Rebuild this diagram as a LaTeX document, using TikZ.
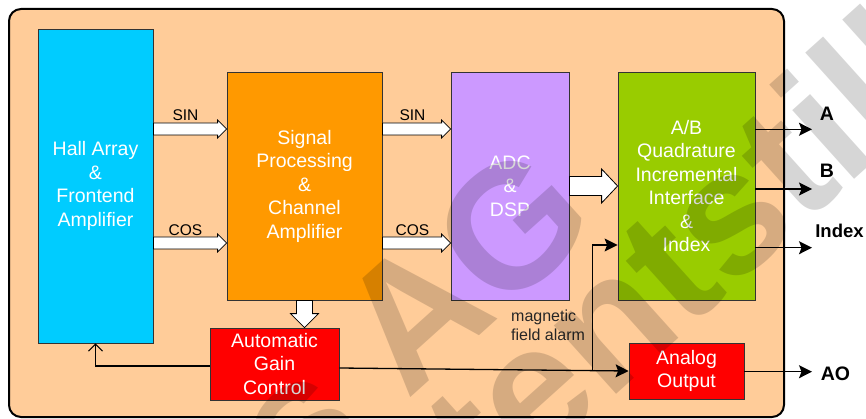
\documentclass[tikz,border=0pt]{standalone}
\usepackage{fontspec}
\setmainfont{Liberation Sans}
\usetikzlibrary{arrows.meta,calc}
\definecolor{peach}{HTML}{FFCC99}
\definecolor{hallc}{HTML}{00CCFF}
\definecolor{spc}{HTML}{FF9900}
\definecolor{adcc}{HTML}{CC99FF}
\definecolor{abc}{HTML}{99CC00}
\definecolor{redc}{HTML}{FF0000}
\newcommand\harr[5]{%
  \draw[hollow] let \p1=(#1), \p2=(#2) in
    (\x1,\y1+#3) -- (\x2-#5,\y1+#3) -- (\x2-#5,\y1+#4) -- (\x2,\y1)
    -- (\x2-#5,\y1-#4) -- (\x2-#5,\y1-#3) -- (\x1,\y1-#3) -- cycle;}
\newcommand\varr[5]{%
  \draw[hollow] let \p1=(#1), \p2=(#2) in
    (\x1+#3,\y1) -- (\x1+#3,\y2+#5) -- (\x1+#4,\y2+#5) -- (\x1,\y2)
    -- (\x1-#4,\y2+#5) -- (\x1-#3,\y2+#5) -- (\x1-#3,\y1) -- cycle;}
\begin{document}
\begin{tikzpicture}[x=1pt,y=-1pt,
  blk/.style={draw=black!80, line width=0.8pt, align=center, text=white,
    font=\fontsize{19.5}{23.5}\selectfont, inner sep=0pt},
  hollow/.style={draw=black, fill=white, line width=0.8pt, line join=miter},
  conn/.style={draw=black, line width=1.3pt},
  outtip/.style={-{Stealth[length=13pt,width=13pt,inset=2.5pt]}},
  sig/.style={font=\fontsize{15.5}{18}\selectfont, anchor=base, inner sep=0pt},
  outlbl/.style={font=\fontsize{19.5}{23}\selectfont\bfseries, anchor=base, inner sep=0pt},
  wm/.style={font=\fontsize{175}{175}\selectfont\bfseries, text=black, opacity=0.16, rotate=42, inner sep=0pt}
]
\useasboundingbox (0,0) rectangle (866,419);
\node[draw=black, line width=2pt, fill=peach, rounded corners=12pt,
  minimum width=775pt, minimum height=408pt, inner sep=0pt] (chip) at (396.5,213) {};

\node[blk, fill=hallc, minimum width=115pt, minimum height=314pt] (hall) at (95.5,186)
  {Hall Array\\\&\\Frontend\\Amplifier};
\node[blk, fill=spc, minimum width=155pt, minimum height=228pt] (sp) at (304.5,186)
  {Signal\\Processing\\\&\\Channel\\Amplifier};
\node[blk, fill=adcc, minimum width=118pt, minimum height=228pt] (adc) at (510,186)
  {ADC\\\&\\DSP};
\node[blk, fill=abc, minimum width=137pt, minimum height=228pt] (ab) at (686.5,186)
  {A/B\\Quadrature\\Incremental\\Interface\\\&\\Index};
\node[blk, fill=redc, minimum width=129pt, minimum height=72pt] (agc) at (274.5,364)
  {Automatic\\Gain\\Control};
\node[blk, fill=redc, minimum width=115pt, minimum height=56pt] (ao) at (686.5,371)
  {Analog\\Output};

\coordinate (ysin) at (0,129);
\coordinate (ycos) at (0,243);
\harr{hall.east |- ysin}{sp.west |- ysin}{6pt}{9pt}{9pt}
\harr{hall.east |- ycos}{sp.west |- ycos}{6pt}{9pt}{9pt}
\harr{sp.east |- ysin}{adc.west |- ysin}{6pt}{9pt}{9pt}
\harr{sp.east |- ycos}{adc.west |- ycos}{6pt}{9pt}{9pt}
\harr{adc.east}{ab.west}{9.5pt}{17pt}{16pt}
\varr{sp.south}{sp.south |- agc.north}{8pt}{14pt}{14pt}

\node[sig] (lsin1) at (185.5,121) {SIN};
\node[sig] (lcos1) at (185.5,235.5) {COS};
\node[sig] (lsin2) at (412.5,121) {SIN};
\node[sig] (lcos2) at (412.5,235.5) {COS};

% feedback AGC -> Hall
\draw[conn, line width=1.1pt, -{Straight Barb[length=7pt,width=14pt]}]
  (agc.west |- 0,366) -| (hall.south);
% AGC -> Analog output
\coordinate (agcout) at (agc.east |- 0,368);
\draw[conn, outtip] (agcout) -- (ao.west);
\coordinate (jn) at ($(agcout)!0.876!(ao.west)$);
\draw[conn, outtip] (jn) |- (ab.west |- 0,245);
\node[font=\fontsize{16}{19}\selectfont, text=black!85, align=left, anchor=north west, inner sep=0pt]
  (alarm) at (511,309.5) {magnetic\\field alarm};

% outputs
\coordinate (oA) at (812,129.3);
\coordinate (oB) at (812,189);
\coordinate (oI) at (812,247.7);
\coordinate (oAO) at (812,371.7);
\draw[conn, outtip] (ab.east |- oA) -- (oA);
\draw[conn, outtip] (ab.east |- oB) -- (oB);
\draw[conn, outtip] (ab.east |- oI) -- (oI);
\draw[conn, outtip] (ao.east |- oAO) -- (oAO);
\node[outlbl] (lA) at (827,121) {A};
\node[outlbl] (lB) at (827,178) {B};
\node[outlbl, font=\fontsize{18.5}{22}\selectfont\bfseries] (lI) at (839.5,238) {Index};
\node[outlbl] (lAO) at (835.5,380) {AO};

% watermark
\node[wm, anchor=base east] (wm1) at (603,225) {ams AG};
\node[wm, anchor=base west] (wm2) at (730,292) {still valid};
\node[wm, anchor=base east] (wm3) at (730,292) {content};
\end{tikzpicture}
\end{document}
